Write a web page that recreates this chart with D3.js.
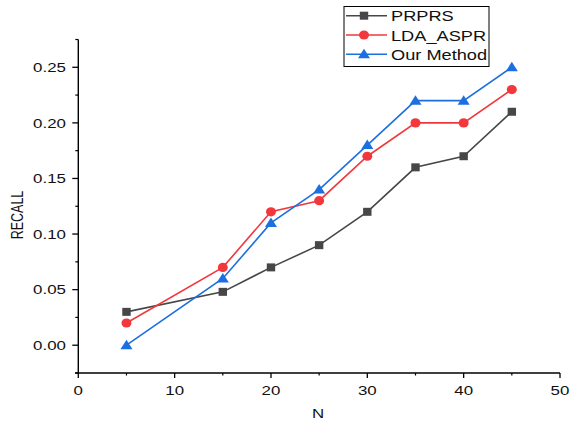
<!DOCTYPE html>
<html>
<head>
<meta charset="utf-8">
<script src="https://cdn.jsdelivr.net/npm/d3@7"></script>
<style>
  body { margin: 0; background: #fff; }
  text { font-family: "Liberation Sans", Arial, sans-serif; fill: #111; }
</style>
</head>
<body>
<div id="chart"></div>
<script>
  // values
  let nValues = [5, 15, 20, 25, 30, 35, 40, 45];
  let prprs = [0.03, 0.048, 0.07, 0.09, 0.12, 0.16, 0.17, 0.21];
  let ldaAspr = [0.02, 0.07, 0.12, 0.13, 0.17, 0.20, 0.20, 0.23];
  let ourMethod = [0.00, 0.06, 0.11, 0.14, 0.18, 0.22, 0.22, 0.25];
  let seriesNames = ["PRPRS", "LDA_ASPR", "Our Method"];
  let xTicks = [0, 10, 20, 30, 40, 50];
  let yTicks = [0, 0.05, 0.10, 0.15, 0.20, 0.25];

  let width = 574, height = 425;

  let svg = d3.select("#chart").append("svg")
    .attr("width", width).attr("height", height);

  let x = d3.scaleLinear().domain([0, 50]).range([78.3, 560]);
  let y = d3.scaleLinear().domain([-0.025, 0.275]).range([373, 39.5]);

  // minor ticks
  let xMinor = d3.range(5, 50, 10);
  let yMinor = d3.range(-0.025, 0.28, 0.05);

  let axisG = svg.append("g").attr("stroke", "#000");

  // x axis line + ticks
  axisG.append("line").attr("x1", 75).attr("x2", x(50)).attr("y1", y(-0.025)).attr("y2", y(-0.025)).attr("stroke-width", 1.4);
  axisG.selectAll(".xmaj").data(xTicks).enter().append("line")
    .attr("x1", d => x(d)).attr("x2", d => x(d))
    .attr("y1", y(-0.025)).attr("y2", y(-0.025) + 5).attr("stroke-width", 1.3);
  axisG.selectAll(".xmin").data(xMinor).enter().append("line")
    .attr("x1", d => x(d)).attr("x2", d => x(d))
    .attr("y1", y(-0.025)).attr("y2", y(-0.025) + 2.5).attr("stroke-width", 1.2);

  // y axis line + ticks
  axisG.append("line").attr("x1", x(0)).attr("x2", x(0)).attr("y1", y(0.275)).attr("y2", y(-0.025)).attr("stroke-width", 1.4);
  axisG.selectAll(".ymaj").data(yTicks).enter().append("line")
    .attr("x1", x(0) - 6).attr("x2", x(0))
    .attr("y1", d => y(d)).attr("y2", d => y(d)).attr("stroke-width", 1.3);
  axisG.selectAll(".ymin").data(yMinor).enter().append("line")
    .attr("x1", x(0) - 3).attr("x2", x(0))
    .attr("y1", d => y(d)).attr("y2", d => y(d)).attr("stroke-width", 1.2);

  // the source picture is stretched sideways, so is its text
  function label(txt, px, py, size, anchor, sx) {
    return svg.append("text")
      .attr("transform", "translate(" + px + "," + py + ") scale(" + sx + ",1)")
      .attr("font-size", size).attr("text-anchor", anchor)
      .attr("dominant-baseline", "central").text(txt);
  }

  xTicks.forEach(d => label(d3.format("d")(d), x(d), 390, 13, "middle", 1.3));
  yTicks.forEach(d => label(d3.format(".2f")(d), 66, y(d), 13, "end", 1.3));

  label("N", 318, 413, 13, "middle", 1.3);
  svg.append("text")
    .attr("transform", "translate(17,215) rotate(-90) scale(1,1.35)")
    .attr("font-size", 12.5).attr("text-anchor", "middle")
    .attr("dominant-baseline", "central").text("RECALL");

  let colors = ["#474747", "#f2383c", "#1c6fe0"];
  let allSeries = [prprs, ldaAspr, ourMethod];

  let line = d3.line().x((d, i) => x(nValues[i])).y(d => y(d));

  function marker(g, k, cx, cy) {
    if (k === 0) {
      g.append("rect").attr("x", cx - 4.2).attr("y", cy - 4).attr("width", 8.4).attr("height", 8)
        .attr("fill", colors[k]);
    } else if (k === 1) {
      g.append("ellipse").attr("cx", cx).attr("cy", cy).attr("rx", 5).attr("ry", 4.6)
        .attr("fill", colors[k]);
    } else {
      g.append("path").attr("d", "M" + cx + "," + (cy - 5.5) + "L" + (cx + 6) + "," + (cy + 4) + "L" + (cx - 6) + "," + (cy + 4) + "Z")
        .attr("fill", colors[k]);
    }
  }

  allSeries.forEach(function(vals, k) {
    let g = svg.append("g");
    g.append("path").datum(vals).attr("d", line)
      .attr("fill", "none").attr("stroke", colors[k]).attr("stroke-width", 1.6);
    vals.forEach((v, i) => marker(g, k, x(nValues[i]), y(v)));
  });

  // legend
  let leg = svg.append("g");
  leg.append("rect").attr("x", 344).attr("y", 6.5).attr("width", 145).attr("height", 60)
    .attr("fill", "#fff").attr("stroke", "#000").attr("stroke-width", 1);
  let rowY = [15.7, 35, 54.3];
  seriesNames.forEach(function(name, k) {
    leg.append("line").attr("x1", 346).attr("x2", 387).attr("y1", rowY[k]).attr("y2", rowY[k])
      .attr("stroke", colors[k]).attr("stroke-width", 1.6);
    marker(leg, k, 364, rowY[k]);
    label(name, 391, rowY[k] + 0.5, 13.8, "start", 1.32);
  });
</script>
</body>
</html>
